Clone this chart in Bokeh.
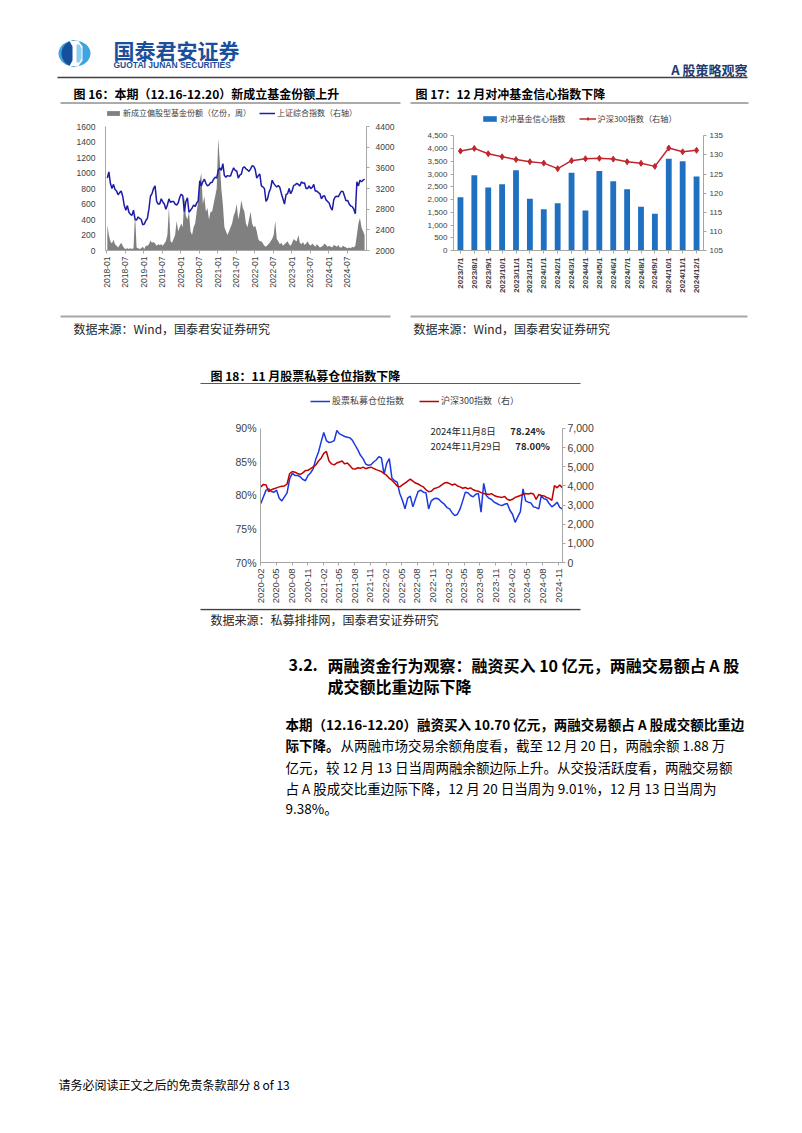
import math
import pandas as pd
from bokeh.plotting import figure
from bokeh.layouts import column, row
from bokeh.models import (Range1d, LinearAxis, FixedTicker, DatetimeTickFormatter,
                          NumeralTickFormatter, PrintfTickFormatter, Legend, LegendItem,
                          Label, Spacer, FactorRange)
from bokeh.core.properties import value
from bokeh.embed import file_html
from bokeh.resources import INLINE

CJK = "Noto Sans CJK SC"
LAT = "Liberation Sans"

# ---------------- 图16 data (semi-monthly, 2018-01 .. 2024-12) ----------------
sse_16 = [
    3400, 3520, 3300, 3200, 3280, 3180, 3150, 3080, 3120, 3150, 3050, 2870,
    2780, 2870, 2740, 2700, 2680, 2780, 2600, 2590, 2650, 2620, 2600, 2500,
    2510, 2580, 2620, 2800, 3050, 3100, 3200, 3250, 2950, 2900, 2900, 3000,
    2940, 2900, 2800, 2880, 3000, 2930, 2950, 2950, 2900, 2880, 2920, 3030,
    3090, 3060, 2750, 2950, 3020, 2740, 2780, 2820, 2880, 2850, 2920, 2960,
    3350, 3250, 3330, 3380, 3300, 3250, 3270, 3310, 3320, 3380, 3420, 3400,
    3550, 3600, 3550, 3680, 3450, 3420, 3450, 3440, 3440, 3530, 3600, 3550,
    3540, 3400, 3460, 3480, 3600, 3620, 3580, 3560, 3530, 3580, 3640, 3630,
    3570, 3400, 3450, 3480, 3250, 3230, 3200, 2950, 3000, 3130, 3200, 3360,
    3300, 3260, 3230, 3260, 3220, 3100, 3000, 2900, 3080, 3100, 3200, 3100,
    3160, 3260, 3270, 3300, 3280, 3250, 3330, 3300, 3310, 3200, 3200, 3250,
    3200, 3220, 3280, 3150, 3150, 3120, 3100, 3000, 3050, 3060, 2980, 2950,
    2920, 2830, 2780, 2980, 3040, 3050, 3040, 3100, 3150, 3140, 3050, 2960,
    2970, 2900, 2860, 2850, 2800, 2710, 3330, 3250, 3360, 3330, 3360, 3380,
]
fund_16 = [
    330, 200, 120, 90, 140, 80, 60, 40, 70, 100, 60, 30,
    20, 30, 20, 30, 20, 30, 480, 40, 30, 20, 30, 50,
    20, 60, 60, 80, 130, 100, 110, 90, 60, 80, 70, 80,
    60, 90, 120, 200, 560, 120, 100, 150, 200, 380, 250, 300,
    350, 300, 700, 450, 400, 500, 250, 200, 300, 350, 500, 650,
    900, 1000, 600, 700, 500, 550, 400, 500, 500, 600, 700, 800,
    1450, 1150, 800, 600, 300, 250, 200, 250, 300, 350, 450, 500,
    600, 400, 500, 650, 550, 500, 350, 300, 400, 500, 350, 300,
    320, 250, 150, 120, 120, 90, 60, 50, 70, 90, 120, 150,
    200, 380, 150, 120, 80, 100, 60, 80, 100, 120, 80, 60,
    100, 150, 130, 120, 200, 100, 80, 110, 70, 90, 120, 80,
    60, 90, 70, 50, 80, 60, 40, 50, 60, 90, 70, 50,
    60, 50, 40, 70, 60, 50, 70, 40, 40, 60, 50, 40,
    30, 40, 30, 50, 40, 60, 200, 350, 420, 300, 250, 200,
]
dates_16 = pd.date_range("2018-01-05", "2024-12-20", periods=len(sse_16))
ticks_16 = ["2018-01", "2018-07", "2019-01", "2019-07", "2020-01", "2020-07",
            "2021-01", "2021-07", "2022-01", "2022-07", "2023-01", "2023-07",
            "2024-01", "2024-07"]
yticks_16 = [0, 200, 400, 600, 800, 1000, 1200, 1400, 1600]
rticks_16 = [2000, 2400, 2800, 3200, 3600, 4000, 4400]

# ---------------- 图17 data (monthly) ----------------
months_17 = ["2023/7/1", "2023/8/1", "2023/9/1", "2023/10/1", "2023/11/1", "2023/12/1",
             "2024/1/1", "2024/2/1", "2024/3/1", "2024/4/1", "2024/5/1", "2024/6/1",
             "2024/7/1", "2024/8/1", "2024/9/1", "2024/10/1", "2024/11/1", "2024/12/1"]
hedge_17 = [2090, 2950, 2470, 2600, 3150, 2030, 1620, 1850, 3050, 1570, 3120, 2720,
            2400, 1720, 1440, 3600, 3500, 2900]
hs300_17 = [131.0, 131.7, 130.3, 129.5, 128.8, 128.2, 127.85, 126.4, 128.5, 129.0, 129.1,
            128.9, 128.2, 127.8, 127.0, 131.8, 130.8, 131.2]
yticks_17 = [0, 500, 1000, 1500, 2000, 2500, 3000, 3500, 4000, 4500]
rticks_17 = [105, 110, 115, 120, 125, 130, 135]

# ---------------- 图18 data (semi-monthly, 2020-02 .. 2024-11) ----------------
pos_18 = [
    78.8, 79.8, 80.8, 81.0, 80.6, 80.5, 80.8, 79.6, 79.2, 79.8,
    80.4, 82.5, 83.3, 83.0, 83.0, 82.8, 82.4, 82.2, 83.0, 83.4,
    84.0, 85.5, 86.5, 88.0, 89.4, 88.2, 87.9, 88.0, 88.2, 89.7,
    89.2, 89.0, 88.8, 88.7, 88.6, 88.2, 87.5, 86.8, 86.0, 85.5,
    84.7, 84.5, 84.6, 85.0, 85.3, 85.8, 85.6, 83.2, 84.8, 85.5,
    82.6, 82.2, 82.0, 80.3, 79.3, 78.0, 79.6, 79.9, 78.3, 79.5,
    80.6, 80.8, 80.5, 80.4, 78.0, 79.2, 79.5, 79.6, 79.4, 79.0,
    78.7, 78.2, 78.0, 77.4, 77.0, 77.2, 78.0, 79.2, 80.5, 80.4,
    80.0, 79.8, 80.2, 80.3, 77.5, 81.8, 80.0, 79.6, 79.4, 79.0,
    78.8, 78.6, 78.5, 78.7, 78.8, 77.8, 77.2, 76.0, 76.8, 77.6,
    81.0, 79.2, 79.0, 78.9, 78.3, 78.2, 78.0, 80.0, 79.5, 79.4,
    78.8, 78.3, 78.6, 79.0, 78.24, 78.0,
]
hs300_18 = [
    3950, 4080, 4050, 3700, 3800, 3850, 3900, 3950, 3980, 4000,
    4100, 4650, 4750, 4720, 4650, 4600, 4680, 4800, 4820, 4900,
    5000, 5100, 5300, 5450, 5700, 5800, 5300, 5150, 5100, 5200,
    5250, 5300, 5150, 5200, 5050, 4900, 4880, 4950, 4920, 4980,
    4900, 4950, 4980, 4920, 4850, 4800, 4750, 4650, 4550, 4400,
    4300, 4150, 4000, 3950, 4050, 4150, 4250, 4350, 4250, 4150,
    4100, 4020, 3950, 3800, 3700, 3720, 3850, 3900, 3950, 4050,
    4150, 4180, 4120, 4050, 4100, 4000, 3950, 3880, 3920, 3850,
    3900, 3800, 3750, 3720, 3650, 3600, 3580, 3550, 3600, 3500,
    3450, 3420, 3400, 3450, 3300, 3250, 3300, 3400, 3450, 3500,
    3550, 3600, 3580, 3620, 3580, 3300, 3550, 3500, 3480, 3400,
    3350, 3250, 4020, 3900, 4050, 3900,
]
dates_18 = pd.date_range("2020-02-07", "2024-11-29", periods=len(pos_18))
ticks_18 = ["2020-02", "2020-05", "2020-08", "2020-11", "2021-02", "2021-05", "2021-08",
            "2021-11", "2022-02", "2022-05", "2022-08", "2022-11", "2023-02", "2023-05",
            "2023-08", "2023-11", "2024-02", "2024-05", "2024-08", "2024-11"]
yticks_18 = [70, 75, 80, 85, 90]
rticks_18 = [0, 1000, 2000, 3000, 4000, 5000, 6000, 7000]
note_18 = [("2024年11月8日", "78.24%"), ("2024年11月29日", "78.00%")]


def ms(ts):
    return pd.Timestamp(ts).value / 1e6


def ym_formatter():
    f = "%Y-%m"
    return DatetimeTickFormatter(microseconds=f, milliseconds=f, seconds=f, minsec=f,
                                 minutes=f, hourmin=f, hours=f, days=f, months=f, years=f)


def style_axis(ax, size, standoff=3, tick_out=3, font=LAT, color="#404040",
               line_color="#a6a6a6", bold=False):
    ax.major_label_text_font = font
    ax.major_label_text_font_size = size
    ax.major_label_text_color = color
    ax.major_label_text_font_style = "bold" if bold else "normal"
    ax.axis_line_color = line_color
    ax.major_tick_line_color = line_color
    ax.major_tick_out = tick_out
    ax.major_tick_in = 0
    ax.minor_tick_line_color = None
    ax.major_label_standoff = standoff


def legend(items, loc, size, gw, gh, spacing):
    return Legend(items=items, location=loc, orientation="horizontal",
                  label_text_font=CJK, label_text_font_size=size, label_text_color="#404040",
                  glyph_width=gw, glyph_height=gh, label_standoff=2, spacing=spacing,
                  padding=0, margin=0, label_height=10, border_line_color=None,
                  background_fill_alpha=0)


def canvas(y0, y1):
    p = figure(width=794, height=y1 - y0, x_range=Range1d(0, 794), y_range=Range1d(y1, y0),
               min_border=0, x_axis_type=None, y_axis_type=None, toolbar_location=None,
               output_backend="svg", outline_line_color=None)
    p.grid.visible = False
    return p


def txt(p, x, y, s, size, bold=False, color="#000000", font=CJK, align="left"):
    p.text(x=[x], y=[y], text=[s], text_font=value(font), text_font_size=size,
           text_font_style="bold" if bold else "normal", text_color=color,
           text_baseline="middle", text_align=align)


def hline(p, x0, x1, y, color, w):
    p.segment(x0=[x0], y0=[y], x1=[x1], y1=[y], line_color=color, line_width=w)


# ---------------- header (page y 0..104) ----------------
hdr = canvas(0, 104)
hdr.ellipse(x=[74], y=[53], width=32, height=26, fill_color="#3fa3dd", line_color=None)
hdr.wedge(x=[74], y=[53], radius=13, start_angle=math.pi / 2, end_angle=3 * math.pi / 2,
          fill_color="#154f9e", line_color=None)
hdr.patch(x=[69, 78, 82, 82, 78, 69, 72, 72], y=[40.5, 40.5, 46, 60, 65.5, 65.5, 60, 46],
          fill_color="#ffffff", line_color=None)
hdr.patch(x=[76, 79, 81, 81, 79, 76], y=[44, 44, 48, 58, 62, 62],
          fill_color="#8fcdf0", line_color=None)
txt(hdr, 113, 49, "国泰君安证券", "21px", True, "#1b4f9c")
txt(hdr, 113, 64.5, "GUOTAI JUNAN SECURITIES", "8.5px", True, "#1b4f9c", LAT)
txt(hdr, 747, 69, "A 股策略观察", "13px", True, "#1f3b6e", align="right")
hline(hdr, 57, 747, 77, "#404040", 1.3)
txt(hdr, 73, 93, "图 16：本期（12.16-12.20）新成立基金份额上升", "12px", True)
txt(hdr, 415, 93, "图 17：12 月对冲基金信心指数下降", "12px", True)
hline(hdr, 60, 400, 102.5, "#595959", 1)
hline(hdr, 410, 748, 102.5, "#595959", 1)

# ---------------- 图16 (page x 60, y 104; frame 105..366 x 104..250, data top at 126) ----------------
p16 = figure(width=345, height=208, x_axis_type="datetime",
             x_range=Range1d(pd.Timestamp("2017-12-18"), pd.Timestamp("2025-01-08")),
             y_range=Range1d(0, 1884), min_border_left=45, min_border_right=39,
             min_border_top=0, min_border_bottom=62, toolbar_location=None,
             output_backend="svg", outline_line_color=None)
p16.grid.visible = False
p16.extra_y_ranges = {"sse": Range1d(2000, 4826)}
r_area = p16.varea(x=dates_16, y1=0, y2=fund_16, fill_color="#808080")
r_sse = p16.line(dates_16, sse_16, y_range_name="sse", line_color="#1c1ca8", line_width=1.5)
p16.xaxis.ticker = FixedTicker(ticks=[ms(t + "-01") for t in ticks_16])
p16.xaxis.formatter = ym_formatter()
p16.xaxis.major_label_orientation = math.pi / 2
style_axis(p16.xaxis[0], "8.5px", standoff=3, tick_out=3)
p16.yaxis.ticker = FixedTicker(ticks=yticks_16)
p16.yaxis.bounds = (0, 1600)
style_axis(p16.yaxis[0], "8.5px", standoff=10, tick_out=0)
ax16r = LinearAxis(y_range_name="sse", ticker=FixedTicker(ticks=rticks_16), bounds=(2000, 4400))
style_axis(ax16r, "8.5px", standoff=6, tick_out=3)
p16.add_layout(ax16r, "right")
p16.add_layout(legend([LegendItem(label="新成立偏股型基金份额（亿份，周）", renderers=[r_area]),
                       LegendItem(label="上证综合指数（右轴）", renderers=[r_sse])],
                      (0, 132), "8px", 16, 6, 8))

# ---------------- 图17 (page x 405, y 104; frame 453..703 x 104..258, data top at 137) ----------------
p17 = figure(width=389, height=208, x_range=FactorRange(factors=months_17, range_padding=0),
             y_range=Range1d(0, 5727), min_border_left=48, min_border_right=91,
             min_border_top=0, min_border_bottom=54, toolbar_location=None,
             output_backend="svg", outline_line_color=None)
p17.grid.visible = False
p17.extra_y_ranges = {"hs": Range1d(105, 143.18)}
r_bar = p17.vbar(x=months_17, top=hedge_17, width=0.42, fill_color="#1f70c1", line_color=None)
r_hl = p17.line(months_17, hs300_17, y_range_name="hs", line_color="#c0262d", line_width=1.5)
r_hm = p17.scatter(months_17, hs300_17, y_range_name="hs", marker="diamond", size=6,
                   fill_color="#c0262d", line_color="#c0262d")
p17.xaxis.major_label_orientation = math.pi / 2
style_axis(p17.xaxis[0], "8px", standoff=4, tick_out=3, bold=True)
p17.yaxis.ticker = FixedTicker(ticks=yticks_17)
p17.yaxis.bounds = (0, 4500)
p17.yaxis.formatter = NumeralTickFormatter(format="0,0")
style_axis(p17.yaxis[0], "8px", standoff=3, tick_out=3)
ax17r = LinearAxis(y_range_name="hs", ticker=FixedTicker(ticks=rticks_17), bounds=(105, 135))
style_axis(ax17r, "8px", standoff=3, tick_out=3)
p17.add_layout(ax17r, "right")
p17.add_layout(legend([LegendItem(label="对冲基金信心指数", renderers=[r_bar]),
                       LegendItem(label="沪深300指数（右轴）", renderers=[r_hl, r_hm])],
                      (28, 126), "8.2px", 17, 7, 13))

# ---------------- middle (page y 312..384) ----------------
mid = canvas(312, 384)
hline(mid, 60, 390, 316, "#a6a6a6", 2)
hline(mid, 410, 747, 316, "#a6a6a6", 2)
txt(mid, 73, 328, "数据来源：Wind，国泰君安证券研究", "12px", False, "#262626")
txt(mid, 413, 328, "数据来源：Wind，国泰君安证券研究", "12px", False, "#262626")
txt(mid, 210, 375, "图 18：11 月股票私募仓位指数下降", "12px", True)
hline(mid, 200, 580, 383, "#595959", 1)

# ---------------- 图18 (page x 200, y 384; frame 260..562 x 384..562, data top at 428) ----------------
p18 = figure(width=402, height=224, x_axis_type="datetime",
             x_range=Range1d(pd.Timestamp("2020-02-05"), pd.Timestamp("2024-11-30")),
             y_range=Range1d(70, 96.567), min_border_left=60, min_border_right=40,
             min_border_top=0, min_border_bottom=46, toolbar_location=None,
             output_backend="svg", outline_line_color=None)
p18.grid.visible = False
p18.extra_y_ranges = {"hs": Range1d(0, 9298.5)}
r_pos = p18.line(dates_18, pos_18, line_color="#1c39e0", line_width=1.5)
r_hs = p18.line(dates_18, hs300_18, y_range_name="hs", line_color="#c00000", line_width=1.5)
p18.xaxis.ticker = FixedTicker(ticks=[ms(t + "-07") for t in ticks_18])
p18.xaxis.formatter = ym_formatter()
p18.xaxis.major_label_orientation = math.pi / 2
style_axis(p18.xaxis[0], "9.5px", standoff=3, tick_out=3)
p18.yaxis.ticker = FixedTicker(ticks=yticks_18)
p18.yaxis.bounds = (70, 90)
p18.yaxis.formatter = PrintfTickFormatter(format="%d%%")
style_axis(p18.yaxis[0], "10.5px", standoff=4, tick_out=0)
ax18r = LinearAxis(y_range_name="hs", ticker=FixedTicker(ticks=rticks_18), bounds=(0, 7000),
                   formatter=NumeralTickFormatter(format="0,0"))
style_axis(ax18r, "10.5px", standoff=2, tick_out=3)
p18.add_layout(ax18r, "right")
p18.add_layout(legend([LegendItem(label="股票私募仓位指数", renderers=[r_pos]),
                       LegendItem(label="沪深300指数（右）", renderers=[r_hs])],
                      (50, 155), "9px", 20, 8, 15))
for (d, v), yv, vx in zip(note_18, [89.7, 87.46], ["2024-01-31", "2024-02-29"]):
    p18.add_layout(Label(x=ms("2022-10-22"), y=yv, text=d, text_font=CJK,
                         text_font_size="9.5px", text_color="#262626", text_baseline="middle"))
    p18.add_layout(Label(x=ms(vx), y=yv, text=v, text_font=CJK, text_font_size="9.5px",
                         text_font_style="bold", text_color="#262626", text_baseline="middle"))

# ---------------- bottom (page y 608..1125) ----------------
bot = canvas(608, 1125)
hline(bot, 200, 580, 609, "#404040", 1.3)
txt(bot, 210, 619, "数据来源：私募排排网，国泰君安证券研究", "12px", False, "#262626")
txt(bot, 288, 664, "3.2.", "16px", True)
txt(bot, 327, 664, "两融资金行为观察：融资买入 10 亿元，两融交易额占 A 股", "16px", True)
txt(bot, 327, 685, "成交额比重边际下降", "16px", True)
PS = "13.5px"
txt(bot, 285, 723, "本期（12.16-12.20）融资买入 10.70 亿元，两融交易额占 A 股成交额比重边", PS, True)
txt(bot, 285, 744, "际下降。", PS, True)
txt(bot, 340, 744, "从两融市场交易余额角度看，截至 12 月 20 日，两融余额 1.88 万", PS)
txt(bot, 285, 766, "亿元，较 12 月 13 日当周两融余额边际上升。从交投活跃度看，两融交易额", PS)
txt(bot, 285, 787, "占 A 股成交比重边际下降，12 月 20 日当周为 9.01%，12 月 13 日当周为", PS)
txt(bot, 285, 807, "9.38%。", PS)
txt(bot, 58, 1084, "请务必阅读正文之后的免责条款部分 8 of 13", "12px")

layout = column(
    hdr,
    row(Spacer(width=60, height=208), p16, p17),
    mid,
    row(Spacer(width=200, height=224), p18),
    bot,
)

open("out.html", "w").write(file_html(layout, INLINE))
